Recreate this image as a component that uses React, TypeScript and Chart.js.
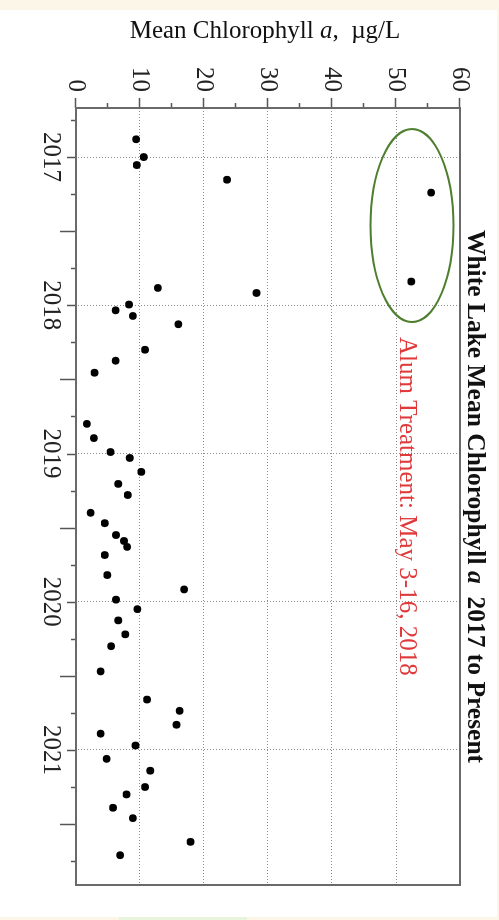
import React, { useEffect, useRef } from "react";
import { Chart, registerables } from "chart.js";

Chart.register(...registerables);

// Sample dates (decimal years) and mean chlorophyll a (µg/L)
const sampleDates = [
  2016.88, 2017.0, 2017.054, 2017.153, 2017.24, 2017.84, 2017.883, 2017.917, 2017.995,
  2018.034, 2018.072, 2018.128, 2018.3, 2018.374, 2018.455, 2018.8, 2018.896, 2018.99,
  2019.03, 2019.124, 2019.205, 2019.28, 2019.4, 2019.47, 2019.55, 2019.59, 2019.63,
  2019.685, 2019.82, 2019.917, 2019.986, 2020.05, 2020.126, 2020.22, 2020.3, 2020.47,
  2020.66, 2020.736, 2020.83, 2020.89, 2020.97, 2021.06, 2021.14, 2021.25, 2021.3,
  2021.39, 2021.46, 2021.62, 2021.71,
];
const chlorophyll = [
  9.4, 10.6, 9.5, 23.6, 55.5, 52.4, 12.8, 28.2, 8.3,
  6.2, 8.9, 16.0, 10.8, 6.2, 2.9, 1.7, 2.8, 5.4,
  8.4, 10.2, 6.6, 8.1, 2.3, 4.5, 6.25, 7.5, 8.0,
  4.5, 4.9, 16.9, 6.25, 9.6, 6.6, 7.7, 5.5, 3.85,
  11.1, 16.2, 15.7, 3.85, 9.3, 4.8, 11.6, 10.8, 7.9,
  5.8, 8.9, 17.9, 6.9,
];

// Axis ranges and tick positions
const dateMin = 2016.669;
const dateMax = 2021.911;
const yearTicks = [2017, 2018, 2019, 2020, 2021];
const midYearTicks = [2017.5, 2018.5, 2019.5, 2020.5, 2021.5];
const quarterTicks = [2016.75, 2017.25, 2017.75, 2018.25, 2018.75, 2019.25, 2019.75, 2020.25, 2020.75, 2021.25, 2021.75];
const valueMin = 0;
const valueMax = 60;
const valueMajorTicks = [0, 10, 20, 30, 40, 50, 60];
const valueMinorTicks = [5, 15, 25, 35, 45, 55];

// Annotations
const titleParts = ["White Lake Mean Chlorophyll ", "a", "  2017 to Present"];
const axisTitleParts = ["Mean Chlorophyll ", "a", ",  µg/L"];
const treatmentText = "Alum Treatment: May 3-16, 2018";
const treatmentAnchor = { date: 2018.214, value: 50.6 };
const ellipseCenter = { date: 2017.462, value: 52.5 };
const ellipseHalf = { date: 0.651, value: 6.48 };

const SERIF = '"Liberation Serif", "Times New Roman", serif';

function drawParts(ctx: CanvasRenderingContext2D, parts: { t: string; f: string }[], cx: number, y: number) {
  let total = 0;
  for (const p of parts) {
    ctx.font = p.f;
    total += ctx.measureText(p.t).width;
  }
  let x = cx - total / 2;
  ctx.textAlign = "left";
  ctx.textBaseline = "alphabetic";
  for (const p of parts) {
    ctx.font = p.f;
    ctx.fillText(p.t, x, y);
    x += ctx.measureText(p.t).width;
  }
}

const decorPlugin = {
  id: "decor",
  afterDraw(chart: any) {
    const ctx: CanvasRenderingContext2D = chart.ctx;
    const xs = chart.scales.x;
    const ys = chart.scales.y;
    const a = chart.chartArea;
    ctx.save();

    // tick marks on time axis (bottom in unrotated frame)
    ctx.strokeStyle = "#555";
    ctx.lineWidth = 1.5;
    const tick = (vals: number[], len: number) => {
      for (const v of vals) {
        const px = Math.round(xs.getPixelForValue(v)) + 0.5;
        ctx.beginPath();
        ctx.moveTo(px, a.bottom);
        ctx.lineTo(px, a.bottom + len);
        ctx.stroke();
      }
    };
    tick(quarterTicks, 5);
    tick(yearTicks, 9);
    tick(midYearTicks, 16);
    const vtick = (vals: number[], len: number) => {
      for (const v of vals) {
        const py = Math.round(ys.getPixelForValue(v)) + 0.5;
        ctx.beginPath();
        ctx.moveTo(a.left, py);
        ctx.lineTo(a.left - len, py);
        ctx.stroke();
      }
    };
    vtick(valueMajorTicks, 10);
    vtick(valueMinorTicks, 5);

    // frame
    ctx.strokeStyle = "#6a6a6a";
    ctx.lineWidth = 2;
    ctx.strokeRect(a.left, a.top, a.right - a.left, a.bottom - a.top);

    // ellipse
    const ecx = xs.getPixelForValue(ellipseCenter.date);
    const ecy = ys.getPixelForValue(ellipseCenter.value);
    const erx = Math.abs(xs.getPixelForValue(ellipseCenter.date + ellipseHalf.date) - ecx);
    const ery = Math.abs(ys.getPixelForValue(ellipseCenter.value + ellipseHalf.value) - ecy);
    ctx.strokeStyle = "#4e7f2e";
    ctx.lineWidth = 2;
    ctx.beginPath();
    ctx.ellipse(ecx, ecy, erx, ery, 0, 0, Math.PI * 2);
    ctx.stroke();

    // treatment text
    ctx.fillStyle = "#e0393b";
    ctx.font = `25px ${SERIF}`;
    ctx.textAlign = "left";
    ctx.textBaseline = "alphabetic";
    ctx.fillText(treatmentText, xs.getPixelForValue(treatmentAnchor.date), ys.getPixelForValue(treatmentAnchor.value));

    // main title
    ctx.fillStyle = "#111";
    drawParts(
      ctx,
      [
        { t: titleParts[0], f: `bold 25.5px ${SERIF}` },
        { t: titleParts[1], f: `italic bold 25.5px ${SERIF}` },
        { t: titleParts[2], f: `bold 25.5px ${SERIF}` },
      ],
      (a.left + a.right) / 2,
      a.top - 8
    );

    // value axis title (vertical)
    ctx.save();
    ctx.translate(a.left - 70, (a.top + a.bottom) / 2 + 3);
    ctx.rotate(-Math.PI / 2);
    ctx.fillStyle = "#111";
    drawParts(
      ctx,
      [
        { t: axisTitleParts[0], f: `25px ${SERIF}` },
        { t: axisTitleParts[1], f: `italic 25px ${SERIF}` },
        { t: axisTitleParts[2], f: `25px ${SERIF}` },
      ],
      0,
      0
    );
    ctx.restore();

    ctx.restore();
  },
};

export default function App() {
  const ref = useRef<HTMLCanvasElement | null>(null);
  useEffect(() => {
    if (!ref.current) return;
    const chart = new Chart(ref.current, {
      type: "scatter",
      data: {
        datasets: [
          {
            data: sampleDates.map((d, i) => ({ x: d, y: chlorophyll[i] })),
            backgroundColor: "#000",
            borderColor: "#000",
            pointRadius: 3.9,
            pointBorderWidth: 0,
          },
        ],
      },
      options: {
        animation: false,
        responsive: false,
        devicePixelRatio: 1,
        layout: { padding: { top: 39, right: 35, left: 0, bottom: 0 } },
        plugins: { legend: { display: false }, tooltip: { enabled: false }, title: { display: false } },
        scales: {
          x: {
            type: "linear",
            position: "bottom",
            min: dateMin,
            max: dateMax,
            afterBuildTicks: (s: any) => {
              s.ticks = yearTicks.map((v) => ({ value: v }));
            },
            afterFit: (s: any) => {
              s.height = 76;
            },
            ticks: {
              callback: (v: any) => String(v),
              font: { family: SERIF, size: 25 },
              color: "#222",
              padding: 10,
              maxRotation: 0,
              autoSkip: false,
            },
            grid: { color: "#8c8c8c", lineWidth: 1, drawTicks: false },
            border: { display: false, dash: [1, 2] },
          },
          y: {
            type: "linear",
            position: "left",
            min: valueMin,
            max: valueMax,
            afterBuildTicks: (s: any) => {
              s.ticks = valueMajorTicks.map((v) => ({ value: v }));
            },
            afterFit: (s: any) => {
              s.width = 108;
            },
            ticks: {
              callback: (v: any) => String(v),
              font: { family: SERIF, size: 25 },
              color: "#222",
              padding: 16,
            },
            grid: { color: "#8c8c8c", lineWidth: 1, drawTicks: false },
            border: { display: false, dash: [1, 2] },
          },
        },
      },
      plugins: [decorPlugin],
    });
    return () => chart.destroy();
  }, []);

  return (
    <div style={{ position: "fixed", left: 0, top: 0, width: 499, height: 920, background: "#fcf6e9", overflow: "hidden" }}>
      <div style={{ position: "absolute", left: 0, top: 10, width: 497, height: 907, background: "#ffffff" }} />
      <div style={{ position: "absolute", left: 119, top: 917, width: 128, height: 3, background: "#e8f4dc" }} />
      <canvas
        ref={ref}
        width={920}
        height={499}
        style={{
          position: "absolute",
          left: 0,
          top: 0,
          width: 920,
          height: 499,
          transformOrigin: "0 0",
          transform: "translateX(499px) rotate(90deg)",
        }}
      />
    </div>
  );
}
